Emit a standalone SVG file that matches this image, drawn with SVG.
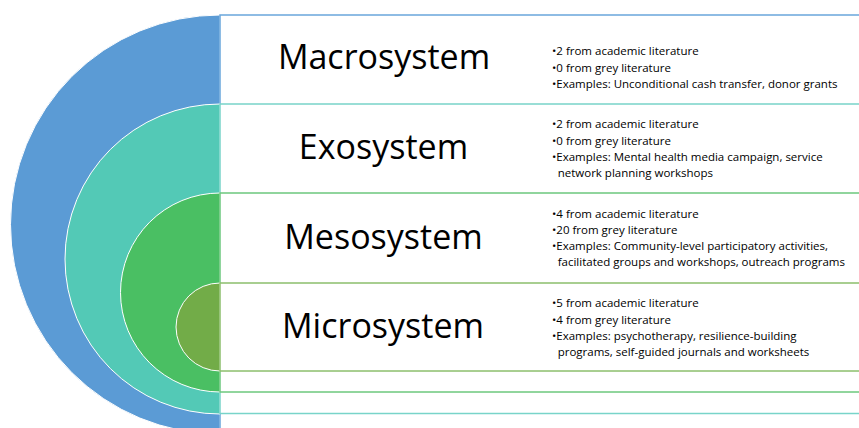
<svg xmlns="http://www.w3.org/2000/svg" width="859" height="428" viewBox="0 0 859 428">
<style>
.disc{stroke:#ffffff;stroke-width:1}
.box{fill:#ffffff;stroke-width:1.5}
.title{font-family:"Open Sans","Liberation Sans",sans-serif;font-size:34px;fill:#000000;text-anchor:middle}
.bul{font-family:"Open Sans","Liberation Sans",sans-serif;font-size:11.5px;fill:#000000}
</style>
<rect width="859" height="428" fill="#ffffff"/>
<g id="macrosystem">
<path class="disc" d="M220,15 A209.5,209.5 0 0 0 220,434 Z" fill="#5b9bd5"/>
<rect class="box" x="220" y="15" width="660" height="419" stroke="#6aa6dc"/>
<text class="title" x="384" y="69.3">Macrosystem</text>
<text class="bul" x="552" y="55">•2 from academic literature</text>
<text class="bul" x="552" y="71.7">•0 from grey literature</text>
<text class="bul" x="552" y="87.7">•Examples: Unconditional cash transfer, donor grants</text>
</g>
<g id="exosystem">
<path class="disc" d="M220,104 A155,155 0 0 0 220,414 Z" fill="#53c9b6"/>
<rect class="box" x="220" y="104" width="660" height="309.5" stroke="#78d4c9"/>
<text class="title" x="383.5" y="159.3">Exosystem</text>
<text class="bul" x="552" y="127.7">•2 from academic literature</text>
<text class="bul" x="552" y="145">•0 from grey literature</text>
<text class="bul" x="552" y="161">•Examples: Mental health media campaign, service</text>
<text class="bul" x="557.7" y="176.7">network planning workshops</text>
</g>
<g id="mesosystem">
<path class="disc" d="M220,193 A99.5,99.5 0 0 0 220,392 Z" fill="#4abf63"/>
<rect class="box" x="220" y="193" width="660" height="199" stroke="#6cc87d"/>
<text class="title" x="383.5" y="249.3">Mesosystem</text>
<text class="bul" x="552" y="217.7">•4 from academic literature</text>
<text class="bul" x="552" y="234.3">•20 from grey literature</text>
<text class="bul" x="552" y="250">•Examples: Community-level participatory activities,</text>
<text class="bul" x="557.7" y="265.7">facilitated groups and workshops, outreach programs</text>
</g>
<g id="microsystem">
<path class="disc" d="M220,283 A44,44 0 0 0 220,371 Z" fill="#72ac48"/>
<rect class="box" x="220" y="283" width="660" height="88" stroke="#8cbf6c"/>
<text class="title" x="383" y="338.3">Microsystem</text>
<text class="bul" x="552" y="307.3">•5 from academic literature</text>
<text class="bul" x="552" y="324.3">•4 from grey literature</text>
<text class="bul" x="552" y="340">•Examples: psychotherapy, resilience-building</text>
<text class="bul" x="557.7" y="355.7">programs, self-guided journals and worksheets</text>
</g>
<g id="connectors"></g>
</svg>
